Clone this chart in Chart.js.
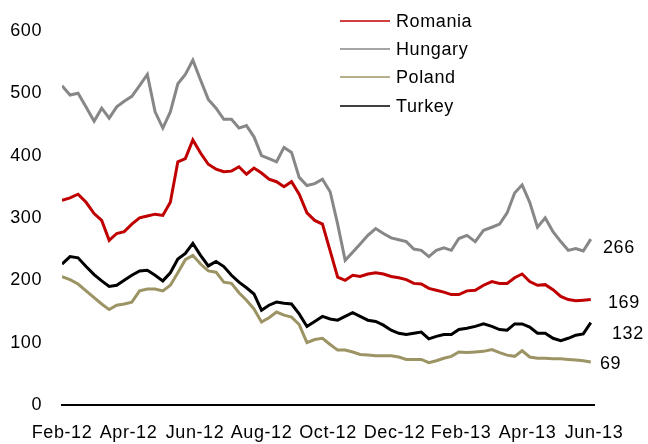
<!DOCTYPE html>
<html>
<head>
<meta charset="utf-8">
<script src="https://cdn.jsdelivr.net/npm/chart.js@4.4.1/dist/chart.umd.min.js"></script>
<style>
  html, body { margin: 0; padding: 0; background: #fff; }
</style>
</head>
<body>
<canvas id="spreadChart" width="648" height="444"></canvas>
<script>
// month tick labels, one every two months starting Feb-12
var xLabels = ['Feb-12', 'Apr-12', 'Jun-12', 'Aug-12', 'Oct-12', 'Dec-12', 'Feb-13', 'Apr-13', 'Jun-13'];
var seriesNames = ['Romania', 'Hungary', 'Poland', 'Turkey'];

// weekly readings from 1 Feb 2012
var romania = [328, 332, 338, 325, 307, 296, 264, 275, 278, 290, 300, 303, 306, 304, 325, 390, 395, 425, 404, 386,
  378, 374, 375, 382, 370, 380, 372, 362, 358, 350, 358, 338, 308, 296, 290, 247, 205, 200, 208, 206,
  210, 212, 210, 206, 204, 201, 195, 194, 187, 184, 181, 177, 177, 183, 184, 192, 198, 195, 195, 204,
  210, 198, 192, 193, 185, 174, 169, 167, 168, 169];
var hungary = [512, 497, 500, 478, 455, 476, 460, 478, 487, 495, 512, 530, 470, 444, 470, 515, 530, 553, 521, 490,
  476, 458, 458, 444, 448, 430, 400, 395, 390, 413, 405, 365, 352, 355, 362, 342, 290, 232, 245, 258,
  272, 283, 275, 268, 265, 262, 250, 248, 238, 248, 252, 248, 267, 272, 262, 280, 285, 290, 308, 340,
  353, 325, 285, 300, 278, 262, 248, 251, 247, 266];
var poland = [206, 201, 194, 183, 172, 162, 153, 160, 162, 165, 183, 186, 186, 183, 192, 212, 233, 240, 226, 215,
  213, 197, 195, 180, 168, 154, 133, 140, 149, 144, 141, 129, 100, 105, 107, 97, 88, 88, 85, 81,
  80, 79, 79, 79, 77, 73, 73, 73, 68, 71, 75, 78, 85, 84, 85, 86, 89, 84, 80, 78,
  87, 77, 75, 75, 74, 74, 73, 72, 71, 69];
var turkey = [226, 238, 236, 222, 209, 199, 190, 192, 200, 208, 215, 216, 208, 199, 212, 234, 243, 259, 240, 223,
  230, 222, 208, 197, 188, 178, 152, 160, 165, 163, 162, 146, 126, 134, 142, 138, 136, 142, 148, 142,
  136, 134, 128, 120, 115, 113, 115, 117, 106, 110, 113, 113, 121, 123, 126, 130, 126, 121, 120, 130,
  130, 125, 115, 115, 107, 103, 107, 112, 114, 132];

var colors = ['#c00000', '#878787', '#9c9464', '#000000'];
var fontFamily = '"Liberation Sans", Arial, sans-serif';

// week index -> months after 1 Feb 2012
function weekToMonth(i) {
  var d = new Date(2012, 1, 1 + 7 * i);
  var m = (d.getFullYear() - 2012) * 12 + d.getMonth() - 1;
  var days = new Date(d.getFullYear(), d.getMonth() + 1, 0).getDate();
  return m + (d.getDate() - 1) / days;
}

function toPoints(values) {
  return values.map(function (v, i) { return { x: weekToMonth(i), y: v }; });
}

var allSeries = [romania, hungary, poland, turkey];

// a bit of letter spacing, the original text is set loose
var spacing = {
  id: 'spacing',
  beforeDraw: function (chart) { chart.ctx.letterSpacing = '0.6px'; }
};

// legend drawn inside the plot, top right
var insideLegend = {
  id: 'insideLegend',
  afterDraw: function (chart) {
    var ctx = chart.ctx;
    var rowsY = [21, 49, 77, 106];
    ctx.save();
    ctx.font = '18px ' + fontFamily;
    ctx.textBaseline = 'middle';
    chart.data.datasets.forEach(function (ds, i) {
      ctx.strokeStyle = ds.borderColor;
      ctx.lineWidth = 1.5;
      ctx.beginPath();
      ctx.moveTo(340, rowsY[i]);
      ctx.lineTo(390, rowsY[i]);
      ctx.stroke();
      ctx.fillStyle = '#000';
      ctx.fillText(ds.label, 396, rowsY[i] + 1);
    });
    ctx.restore();
  }
};

// last value written at the right end of each line
var endLabels = {
  id: 'endLabels',
  afterDraw: function (chart) {
    var ctx = chart.ctx;
    var yScale = chart.scales.y;
    var xLeft = [608, 603, 600, 612];
    var yShift = [3, 9, 2, 11];
    ctx.save();
    ctx.font = '18px ' + fontFamily;
    ctx.textBaseline = 'middle';
    ctx.fillStyle = '#000';
    chart.data.datasets.forEach(function (ds, i) {
      var last = ds.data[ds.data.length - 1].y;
      ctx.fillText(String(Math.round(last)), xLeft[i], yScale.getPixelForValue(last) + yShift[i]);
    });
    ctx.restore();
  }
};

var chart = new Chart(document.getElementById('spreadChart'), {
  type: 'line',
  data: {
    datasets: seriesNames.map(function (name, i) {
      return {
        label: name,
        data: toPoints(allSeries[i]),
        borderColor: colors[i],
        backgroundColor: colors[i],
        borderWidth: 3,
        pointRadius: 0,
        tension: 0,
        fill: false
      };
    })
  },
  options: {
    responsive: false,
    animation: false,
    layout: { padding: { top: 23, right: 54, bottom: 0, left: 0 } },
    plugins: {
      legend: { display: false },
      tooltip: { enabled: false }
    },
    scales: {
      x: {
        type: 'linear',
        min: 0,
        max: 16,
        grid: { display: false, drawTicks: false },
        border: { display: true, color: '#000', width: 2 },
        ticks: {
          stepSize: 2,
          autoSkip: false,
          maxRotation: 0,
          padding: 17,
          color: '#000',
          font: { family: fontFamily, size: 18 },
          callback: function (v) { return xLabels[Math.round(v / 2)]; }
        },
        afterFit: function (s) { s.height = 39; }
      },
      y: {
        min: 0,
        max: 600,
        grid: { display: false, drawTicks: false },
        border: { display: false },
        ticks: {
          stepSize: 100,
          padding: 20,
          color: '#000',
          font: { family: fontFamily, size: 18 }
        },
        afterFit: function (s) { s.width = 62; }
      }
    }
  },
  plugins: [spacing, insideLegend, endLabels]
});
</script>
</body>
</html>
